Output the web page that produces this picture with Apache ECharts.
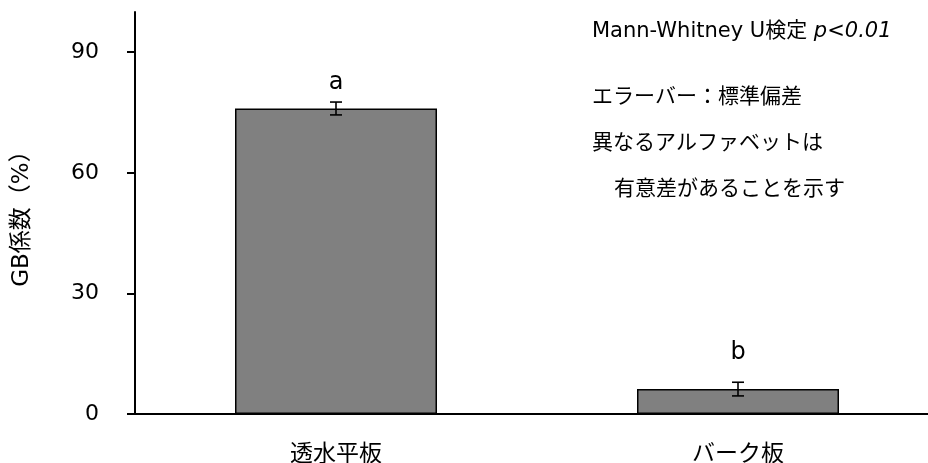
<!DOCTYPE html>
<html>
<head>
<meta charset="utf-8">
<script src="https://cdn.jsdelivr.net/npm/echarts@6/dist/echarts.min.js"></script>
<style>
  html, body { margin: 0; padding: 0; background: #fff; }
  #chart { width: 928px; height: 463px; }
</style>
</head>
<body>
<div id="chart"></div>
<script>
// Mean GB coefficient per surface type, with standard deviation
const categories = ['透水平板', 'バーク板'];
const means = [76.0, 6.2];
const stdDevs = [1.6, 1.7];
// Significance letters and the level (in %) they sit at
const letters = ['a', 'b'];
const letterLevels = [82.5, 15.3];
// Y axis
const yTicks = [0, 30, 60, 90];
const yMin = 0;
const yMax = 100;
const yName = 'GB係数（%）';
// Notes in the upper right
const testName = 'Mann-Whitney U検定 ';
const testP = 'p<0.01';
const notes = ['エラーバー：標準偏差', '異なるアルファベットは', '有意差があることを示す'];

const LATIN = '"DejaVu Sans", "Noto Sans CJK JP", sans-serif';
const CJK = '"DejaVu Sans", "Noto Sans CJK JP", sans-serif';

const chart = echarts.init(document.getElementById('chart'), null, { renderer: 'canvas' });

const errData = categories.map((c, i) => [i, means[i], stdDevs[i], letterLevels[i]]);

const option = {
  animation: false,
  backgroundColor: '#fff',
  grid: { left: 135, top: 12, width: 804, height: 402, containLabel: false, outerBoundsMode: 'none' },
  xAxis: {
    type: 'category',
    data: categories,
    axisLine: { show: true, lineStyle: { color: '#000', width: 2 } },
    axisTick: { show: false },
    axisLabel: { color: '#000', fontSize: 23, fontFamily: CJK, margin: 30 },
    splitLine: { show: false }
  },
  yAxis: {
    type: 'value',
    min: yMin,
    max: yMax,
    interval: 30,
    name: yName,
    nameLocation: 'middle',
    nameGap: 101,
    nameRotate: 90,
    nameTextStyle: { color: '#000', fontSize: 23, fontFamily: CJK },
    axisLine: { show: true, lineStyle: { color: '#000', width: 2 } },
    axisTick: { show: true, length: 8, inside: false, lineStyle: { color: '#000', width: 2 }, customValues: yTicks },
    axisLabel: { color: '#000', fontSize: 22, fontFamily: LATIN, margin: 36, customValues: yTicks },
    splitLine: { show: false }
  },
  series: [
    {
      type: 'bar',
      data: means,
      barWidth: 202,
      itemStyle: { color: '#808080', borderColor: '#000', borderWidth: 1.5 },
      z: 2
    },
    {
      type: 'custom',
      data: errData,
      z: 5,
      renderItem: function (params, api) {
        const x = api.value(0);
        const m = api.value(1);
        const sd = api.value(2);
        const top = api.coord([x, m + sd]);
        const bot = api.coord([x, m - sd]);
        const lp = api.coord([x, api.value(3)]);
        const half = 6;
        const ls = { stroke: '#000', lineWidth: 1.6 };
        return {
          type: 'group',
          children: [
            { type: 'line', shape: { x1: top[0], y1: top[1], x2: bot[0], y2: bot[1] }, style: ls },
            { type: 'line', shape: { x1: top[0] - half, y1: top[1], x2: top[0] + half, y2: top[1] }, style: ls },
            { type: 'line', shape: { x1: bot[0] - half, y1: bot[1], x2: bot[0] + half, y2: bot[1] }, style: ls },
            {
              type: 'text',
              style: {
                text: letters[params.dataIndex],
                x: lp[0], y: lp[1],
                align: 'center', verticalAlign: 'middle',
                fill: '#000', font: '24px ' + LATIN
              }
            }
          ]
        };
      }
    }
  ],
  graphic: [
    {
      type: 'text',
      left: 592,
      top: 21,
      style: {
        text: '{n|' + testName + '}{p|' + testP + '}',
        rich: {
          n: { fontSize: 21, fontFamily: CJK, fill: '#000' },
          p: { fontSize: 21, fontFamily: LATIN, fontStyle: 'italic', fill: '#000' }
        }
      }
    },
    {
      type: 'text', left: 592, top: 87,
      style: { text: notes[0], font: '21px ' + CJK, fill: '#000' }
    },
    {
      type: 'text', left: 592, top: 133,
      style: { text: notes[1], font: '21px ' + CJK, fill: '#000' }
    },
    {
      type: 'text', left: 614, top: 179,
      style: { text: notes[2], font: '21px ' + CJK, fill: '#000' }
    }
  ]
};

chart.setOption(option);
</script>
</body>
</html>
